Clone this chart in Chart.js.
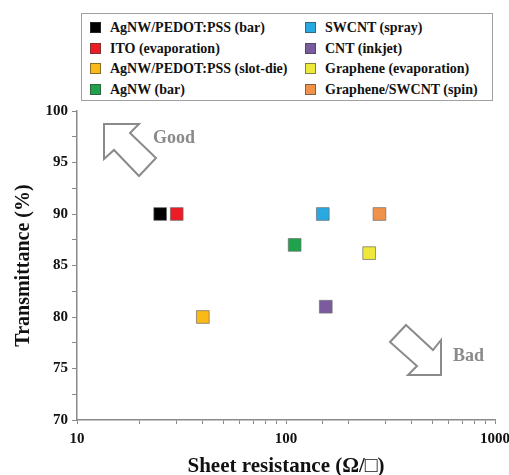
<!DOCTYPE html>
<html>
<head>
<meta charset="utf-8">
<script src="https://cdn.jsdelivr.net/npm/chart.js@4"></script>
<style>
  body { margin: 0; background: #fff; }
  #wrap { position: relative; width: 509px; height: 475px; }
  #legend {
    position: absolute; left: 81px; top: 13px; width: 412px; height: 88px;
    border: 1px solid #a0a0a0; background: #fff; box-sizing: border-box;
    font: bold 14px "Liberation Serif", "Times New Roman", serif; color: #111;
  }
  .item { position: absolute; height: 20px; line-height: 20px; white-space: nowrap; }
  .sw { position: absolute; top: 4px; width: 11px; height: 11px; box-sizing: border-box;
        border: 1px solid rgba(60,60,60,0.6); }
  .lbl { position: absolute; left: 20px; top: 0; }
</style>
</head>
<body>
<div id="wrap">
  <canvas id="chart" width="509" height="475"></canvas>
  <div id="legend"></div>
</div>
<script>
// series, one point each
var names = ['AgNW/PEDOT:PSS (bar)', 'ITO (evaporation)', 'AgNW/PEDOT:PSS (slot-die)', 'AgNW (bar)',
             'SWCNT (spray)', 'CNT (inkjet)', 'Graphene (evaporation)', 'Graphene/SWCNT (spin)'];
var sheetResistance = [25, 30, 40, 110, 150, 155, 250, 280];
var transmittance = [90, 90, 80, 87, 90, 81, 86.2, 90];
var colors = ['#000000', '#ed1c24', '#fbb917', '#1fa34a', '#29a9e1', '#7a5c9e', '#eee83a', '#f0924a'];

var xMajorTicks = [10, 100, 1000];
var yMajorStep = 5;

var serif = '"Liberation Serif", "Times New Roman", serif';

// html legend, two columns of four
var legendDiv = document.getElementById('legend');
names.forEach(function (name, i) {
    var col = Math.floor(i / 4), row = i % 4;
    var item = document.createElement('div');
    item.className = 'item';
    item.style.left = (col === 0 ? 8 : 223) + 'px';
    item.style.top = (4 + row * 20.7) + 'px';
    var sw = document.createElement('span');
    sw.className = 'sw';
    sw.style.background = colors[i];
    var lbl = document.createElement('span');
    lbl.className = 'lbl';
    lbl.textContent = name;
    item.appendChild(sw);
    item.appendChild(lbl);
    legendDiv.appendChild(item);
});

// the outlined "Good" / "Bad" arrows, offsets from chart area top-left
var arrowsPlugin = {
    id: 'arrows',
    afterDatasetsDraw: function (chart) {
        var ctx = chart.ctx, a = chart.chartArea;
        var good = [[27, 13], [62, 13], [53, 22], [79, 47], [62, 65], [37, 39], [27, 48]];
        var bad = [[329, 214], [356, 239], [364, 229], [364, 264], [331, 264], [340, 255], [313, 231]];
        ctx.save();
        ctx.strokeStyle = '#8a8a8a';
        ctx.lineWidth = 2;
        ctx.lineJoin = 'miter';
        [good, bad].forEach(function (pts) {
            ctx.beginPath();
            pts.forEach(function (p, i) {
                if (i === 0) ctx.moveTo(a.left + p[0], a.top + p[1]);
                else ctx.lineTo(a.left + p[0], a.top + p[1]);
            });
            ctx.closePath();
            ctx.stroke();
        });
        ctx.fillStyle = '#8a8a8a';
        ctx.font = 'bold 18px ' + serif;
        ctx.textBaseline = 'middle';
        ctx.fillText('Good', a.left + 76, a.top + 27);
        ctx.fillText('Bad', a.left + 376, a.top + 245);
        ctx.restore();
    }
};

var datasets = names.map(function (name, i) {
    return {
        label: name,
        data: [{ x: sheetResistance[i], y: transmittance[i] }],
        backgroundColor: colors[i],
        borderColor: 'rgba(110,110,110,0.7)',
        borderWidth: 1,
        pointStyle: 'rect',
        pointRadius: 9,
        pointHoverRadius: 9
    };
});

new Chart(document.getElementById('chart'), {
    type: 'scatter',
    data: { datasets: datasets },
    plugins: [arrowsPlugin],
    options: {
        responsive: false,
        animation: false,
        layout: { padding: { left: 10, top: 111, right: 14, bottom: 0 } },
        plugins: {
            legend: { display: false },
            tooltip: { enabled: false }
        },
        scales: {
            x: {
                type: 'logarithmic',
                min: 10,
                max: 1000,
                border: { display: true, color: '#8a8a8a', width: 1.5 },
                grid: { drawOnChartArea: false, drawTicks: true, tickLength: 4, color: '#8a8a8a' },
                ticks: {
                    autoSkip: false,
                    maxRotation: 0,
                    padding: 6,
                    color: '#111',
                    font: { family: serif, size: 15, weight: 'bold' },
                    callback: function (v) { return xMajorTicks.indexOf(v) >= 0 ? String(v) : ''; }
                },
                title: {
                    display: true,
                    text: 'Sheet resistance (\u03A9/\u25A1)',
                    color: '#111',
                    padding: { top: 4, bottom: -2 },
                    font: { family: serif, size: 21, weight: 'bold', lineHeight: 1 }
                },
                afterFit: function (scale) {
                    scale.height = 55;
                    scale.paddingLeft = 0;
                    scale.paddingRight = 0;
                }
            },
            y: {
                min: 70,
                max: 100,
                border: { display: true, color: '#8a8a8a', width: 1.5 },
                grid: { drawOnChartArea: false, drawTicks: true, tickLength: 5, color: '#8a8a8a' },
                ticks: {
                    stepSize: 2.5,
                    autoSkip: false,
                    padding: 4,
                    color: '#111',
                    font: { family: serif, size: 15, weight: 'bold' },
                    callback: function (v) { return v % yMajorStep === 0 ? String(v) : ''; }
                },
                title: {
                    display: true,
                    text: 'Transmittance (%)',
                    color: '#111',
                    padding: { top: 4, bottom: 4 },
                    font: { family: serif, size: 20, weight: 'bold', lineHeight: 1 }
                },
                afterFit: function (scale) {
                    scale.width = 67;
                    scale.paddingTop = 0;
                    scale.paddingBottom = 0;
                }
            }
        }
    }
});
</script>
</body>
</html>
